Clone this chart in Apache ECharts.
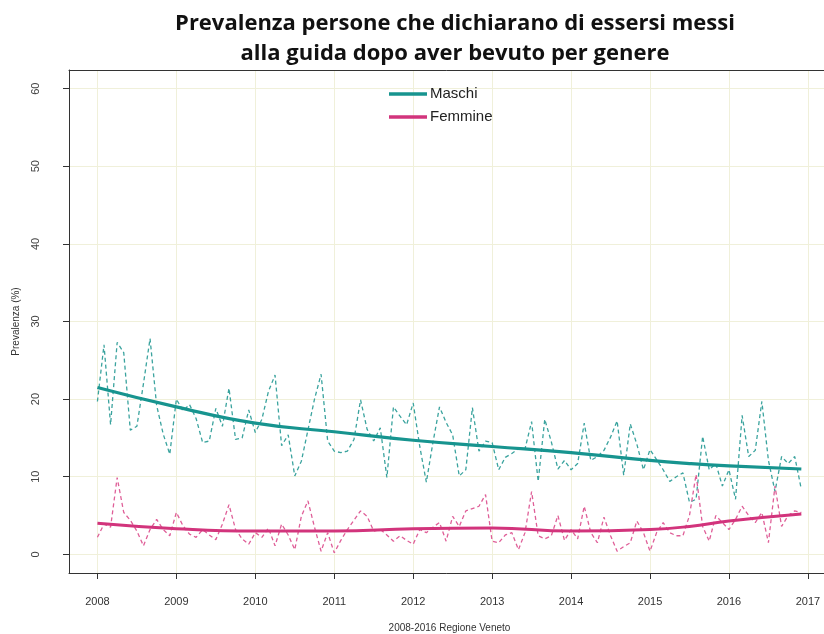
<!DOCTYPE html>
<html>
<head>
<meta charset="utf-8">
<script src="https://cdn.jsdelivr.net/npm/echarts@6/dist/echarts.min.js"></script>
<style>
  html, body { margin: 0; padding: 0; background: #fff; }
  #chart { width: 824px; height: 634px; }
</style>
</head>
<body>
<div id="chart"></div>
<script>
// asse x: anni, asse y: prevalenza
const yearTicks = [2008, 2009, 2010, 2011, 2012, 2013, 2014, 2015, 2016, 2017]
const yTicks = [0, 10, 20, 30, 40, 50, 60]
const startYear = 2008

// valori mensili gen 2008 - dic 2016
const maschiMensile = [
  19.7, 27.0, 16.7, 27.3, 26.0, 16.0, 16.5, 22.0, 27.8, 19.2, 15.5, 12.9,
  20.0, 18.5, 19.3, 17.5, 14.4, 14.6, 18.8, 16.5, 21.4, 14.8, 15.0, 18.6,
  15.7, 17.4, 21.0, 23.1, 14.0, 15.4, 10.1, 12.0, 16.0, 20.0, 23.2, 14.6,
  13.3, 13.1, 13.3, 14.8, 19.9, 16.1, 14.6, 16.3, 9.9, 19.0, 17.8, 16.7,
  19.5, 13.9, 9.3, 14.4, 19.0, 17.0, 15.4, 10.1, 10.9, 18.9, 13.3, 14.6,
  14.4, 10.9, 12.5, 13.0, 13.6, 13.6, 17.1, 9.4, 17.4, 14.5, 11.0, 12.1,
  10.9, 11.7, 16.9, 12.1, 12.6, 13.4, 15.1, 17.2, 10.2, 16.8, 14.2, 10.9,
  13.5, 12.2, 10.9, 9.4, 10.0, 10.5, 6.7, 7.1, 15.2, 10.9, 11.7, 8.8,
  10.9, 7.1, 17.9, 12.6, 13.4, 19.7, 12.1, 8.1, 12.6, 11.7, 12.6, 8.4
]
const femmineMensile = [
  2.2, 3.9, 3.5, 9.9, 5.4, 4.4, 3.0, 1.1, 3.2, 4.5, 3.2, 2.4,
  5.4, 3.7, 2.6, 2.2, 3.2, 2.5, 1.9, 3.9, 6.4, 3.2, 2.0, 1.3,
  2.8, 2.2, 3.4, 1.1, 3.9, 2.5, 0.6, 4.9, 6.9, 3.5, 0.4, 2.8,
  0.2, 1.8, 3.2, 4.4, 5.6, 4.9, 3.0, 3.2, 2.5, 1.7, 2.4, 1.8,
  1.3, 3.2, 2.8, 3.5, 4.1, 1.7, 4.9, 3.6, 5.6, 5.9, 6.2, 7.7,
  1.7, 1.5, 2.5, 2.8, 0.6, 2.8, 8.1, 2.4, 2.0, 2.4, 5.0, 1.8,
  3.2, 2.0, 6.2, 2.8, 1.5, 4.8, 2.4, 0.4, 1.0, 1.5, 4.3, 2.8,
  0.4, 2.8, 4.1, 2.8, 2.4, 2.4, 5.0, 10.3, 3.6, 1.7, 5.0, 4.1,
  3.2, 4.5, 6.2, 5.0, 4.1, 5.4, 1.5, 8.8, 3.6, 5.0, 5.6, 5.4
]

// andamento (curva di tendenza)
const trendYears = [2008, 2009, 2010, 2011, 2012, 2013, 2014, 2015, 2015.5, 2016, 2016.917]
const maschiTrend = [21.5, 19.0, 16.9, 15.8, 14.7, 13.9, 13.1, 12.1, 11.7, 11.4, 11.0]
const femmineTrend = [4.0, 3.3, 3.0, 3.0, 3.3, 3.4, 3.0, 3.2, 3.6, 4.3, 5.2]

const colMaschi = '#17948f'
const colFemmine = '#d2347c'
const xMin = 2007.64
const xMax = 2017.28

const monthly = (vals) => vals.map((v, i) => [startYear + i / 12, v])
const trend = (vals) => vals.map((v, i) => [trendYears[i], v])

const chart = echarts.init(document.getElementById('chart'))

const option = {
  animation: false,
  textStyle: { fontFamily: 'Liberation Sans' },
  title: {
    text: 'Prevalenza persone che dichiarano di essersi messi\nalla guida dopo aver bevuto per genere',
    left: 450,
    top: 4,
    textAlign: 'center',
    textStyle: {
      fontFamily: 'Open Sans',
      fontWeight: 'bold',
      fontSize: 22,
      lineHeight: 30,
      color: '#111',
    },
  },
  legend: {
    data: [
      { name: 'Maschi', icon: 'rect' },
      { name: 'Femmine', icon: 'rect' },
    ],
    orient: 'vertical',
    left: 384,
    top: 80,
    itemWidth: 38,
    itemHeight: 3.5,
    itemGap: 5,
    textStyle: { fontSize: 15, color: '#222', lineHeight: 18, padding: [0, 0, 0, -2] },
  },
  grid: {
    left: 69,
    top: 70,
    right: -6,
    bottom: 61,
    outerBoundsMode: 'none',
  },
  xAxis: [
    {
      type: 'value',
      min: xMin,
      max: xMax,
      splitNumber: 10,
      name: '2008-2016 Regione Veneto',
      nameLocation: 'middle',
      nameGap: 50,
      nameTextStyle: { fontSize: 10, color: '#333' },
      axisLine: { show: true, onZero: false, lineStyle: { color: '#333', width: 1 } },
      axisTick: { show: true, customValues: yearTicks, length: 6, lineStyle: { color: '#333' } },
      axisLabel: { customValues: yearTicks, margin: 23, fontSize: 11, color: '#333', formatter: (v) => String(v) },
      splitLine: { show: true, lineStyle: { color: '#f0f0da', width: 1 } },
    },
    {
      // bordo superiore del riquadro
      type: 'value',
      position: 'top',
      min: xMin,
      max: xMax,
      axisLine: { show: true, onZero: false, lineStyle: { color: '#333', width: 1 } },
      axisTick: { show: false },
      axisLabel: { show: false },
      splitLine: { show: false },
    },
  ],
  yAxis: {
    type: 'value',
    min: -2.4,
    max: 62.4,
    splitNumber: 12,
    name: 'Prevalenza (%)',
    nameLocation: 'middle',
    nameGap: 48,
    nameTextStyle: { fontSize: 10, color: '#333' },
    axisLine: { show: true, onZero: false, lineStyle: { color: '#333', width: 1 } },
    axisTick: { show: true, customValues: yTicks, length: 6, lineStyle: { color: '#333' } },
    axisLabel: { customValues: yTicks, rotate: 90, margin: 28, fontSize: 11, color: '#444' },
    splitLine: { show: true, lineStyle: { color: '#f0f0da', width: 1 } },
  },
  series: [
    {
      name: 'Maschi mensile',
      type: 'line',
      data: monthly(maschiMensile),
      symbol: 'none',
      z: 2,
      lineStyle: { color: '#3aa39e', width: 1.3, type: [4, 3] },
    },
    {
      name: 'Femmine mensile',
      type: 'line',
      data: monthly(femmineMensile),
      symbol: 'none',
      z: 2,
      lineStyle: { color: '#df5f98', width: 1.3, type: [4, 3] },
    },
    {
      name: 'Maschi',
      type: 'line',
      data: trend(maschiTrend),
      smooth: true,
      symbol: 'none',
      z: 3,
      itemStyle: { color: colMaschi },
      lineStyle: { color: colMaschi, width: 3.2 },
    },
    {
      name: 'Femmine',
      type: 'line',
      data: trend(femmineTrend),
      smooth: true,
      symbol: 'none',
      z: 3,
      itemStyle: { color: colFemmine },
      lineStyle: { color: colFemmine, width: 3 },
    },
  ],
}

chart.setOption(option)
</script>
</body>
</html>
